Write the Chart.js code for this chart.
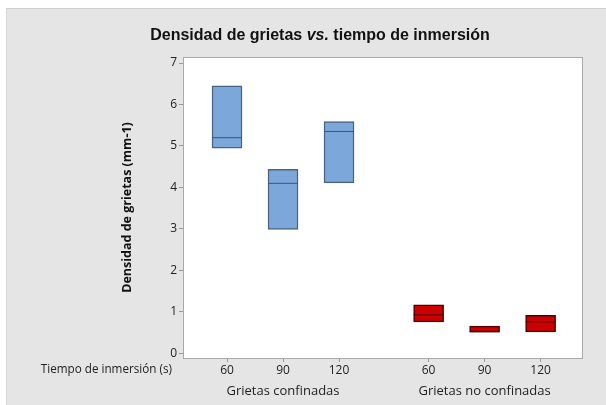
<!DOCTYPE html>
<html>
<head>
<meta charset="utf-8">
<script src="https://cdn.jsdelivr.net/npm/chart.js@4"></script>
<style>
  html, body { margin: 0; padding: 0; background: #fff; overflow: hidden; }
  #panel {
    position: absolute; left: 6px; top: 8px; width: 600px; height: 397px; box-sizing: border-box;
    background: #e5e5e5; border-top: 1px solid #cfcfcf; border-left: 1px solid #d6d6d6;
  }
  #wrap { position: absolute; left: 0; top: 0; width: 606px; height: 405px; }
</style>
</head>
<body>
<div id="panel"></div>
<div id="wrap"><canvas id="chart" width="606" height="405"></canvas></div>
<script>
// posiciones en el eje x (dos grupos separados)
const xPos = [1, 2, 3, 4.6, 5.6, 6.6];
const tiempos = ["60", "90", "120", "60", "90", "120"];
const grupos = ["Grietas confinadas", "Grietas no confinadas"];
const grupoPos = [2, 5.6];

// cajas: cuartil inferior, mediana, cuartil superior
const confLow = [4.95, 2.99, 4.11];
const confMed = [5.20, 4.10, 5.35];
const confHigh = [6.45, 4.44, 5.59];

const noConfLow = [0.76, 0.52, 0.52];
const noConfMed = [0.93, 0.52, 0.76];
const noConfHigh = [1.17, 0.66, 0.92];

const yTicks = [0, 1, 2, 3, 4, 5, 6, 7];

const boxes = (xs, lo, hi) => lo.map((v, i) => ({ x: xs[i], y: [v, hi[i]] }));
const meds = (xs, md) => md.map((v, i) => ({ x: xs[i], y: v }));

const fondo = {
    id: 'fondo',
    beforeDraw(chart) {
        const { ctx, chartArea: a } = chart;
        ctx.save();
        ctx.fillStyle = '#ffffff';
        ctx.fillRect(a.left, a.top, a.right - a.left, a.bottom - a.top);
        ctx.restore();
    },
    afterDraw(chart) {
        const { ctx, chartArea: a } = chart;
        ctx.save();
        ctx.strokeStyle = '#a9a9a9';
        ctx.lineWidth = 1;
        ctx.strokeRect(a.left + 0.5, a.top + 0.5, a.right - a.left - 1, a.bottom - a.top);

        // titulo con "vs." en cursiva
        const parts = [
            ['bold 16px "Liberation Sans", Arial', 'Densidad de grietas '],
            ['italic bold 16px "Liberation Sans", Arial', 'vs.'],
            ['bold 16px "Liberation Sans", Arial', ' tiempo de inmersión']
        ];
        let total = 0;
        parts.forEach(p => { ctx.font = p[0]; total += ctx.measureText(p[1]).width; });
        let x = 320 - total / 2;
        ctx.fillStyle = '#111';
        ctx.textBaseline = 'alphabetic';
        ctx.textAlign = 'left';
        parts.forEach(p => {
            ctx.font = p[0];
            ctx.fillText(p[1], x, 40);
            x += ctx.measureText(p[1]).width;
        });

        // etiqueta de fila del eje x
        ctx.font = '11.7px "Open Sans", sans-serif';
        ctx.fillStyle = '#222';
        ctx.textAlign = 'right';
        ctx.textBaseline = 'middle';
        ctx.fillText('Tiempo de inmersión (s)', 172, 370);
        ctx.restore();
    }
};

new Chart(document.getElementById('chart'), {
    type: 'bar',
    data: {
        datasets: [
            {
                type: 'line', data: meds(xPos.slice(0, 3), confMed), showLine: false,
                pointStyle: 'line', pointRadius: 15, borderColor: '#3f5670', borderWidth: 1, order: 0
            },
            {
                type: 'line', data: meds(xPos.slice(3), noConfMed), showLine: false,
                pointStyle: 'line', pointRadius: 15, borderColor: '#4a0000', borderWidth: 1, order: 0
            },
            {
                data: boxes(xPos.slice(0, 3), confLow, confHigh),
                backgroundColor: '#7ba7db', borderColor: '#4b6380', borderWidth: 1.5,
                borderSkipped: false, barThickness: 30, grouped: false, order: 1
            },
            {
                data: boxes(xPos.slice(3), noConfLow, noConfHigh),
                backgroundColor: '#cc0000', borderColor: '#4a0000', borderWidth: 1.5,
                borderSkipped: false, barThickness: 30, grouped: false, order: 1
            }
        ]
    },
    options: {
        responsive: false,
        animation: false,
        layout: { padding: { left: 110, top: 57, right: 23, bottom: 8 } },
        plugins: { legend: { display: false }, tooltip: { enabled: false } },
        scales: {
            x: {
                type: 'linear', position: 'bottom', min: 0.214, max: 7.357, offset: false,
                afterFit: s => { s.height = 22; },
                afterBuildTicks: s => { s.ticks = xPos.map(v => ({ value: v })); },
                ticks: {
                    autoSkip: false, maxRotation: 0, padding: 1, color: '#222',
                    font: { family: '"Open Sans", sans-serif', size: 12 },
                    callback: (v, i) => tiempos[i]
                },
                grid: { drawOnChartArea: false, offset: false, tickLength: 4, color: '#999' },
                border: { display: false }
            },
            x2: {
                type: 'linear', position: 'bottom', min: 0.214, max: 7.357, offset: false,
                afterFit: s => { s.height = 17; },
                afterBuildTicks: s => { s.ticks = grupoPos.map(v => ({ value: v })); },
                ticks: {
                    autoSkip: false, maxRotation: 0, padding: -5, color: '#222',
                    font: { family: '"Open Sans", sans-serif', size: 13 },
                    callback: (v, i) => grupos[i]
                },
                grid: { display: false, offset: false },
                border: { display: false }
            },
            y: {
                min: -0.11, max: 7.145,
                afterFit: s => { s.width = 73; },
                afterBuildTicks: s => { s.ticks = yTicks.map(v => ({ value: v })); },
                ticks: {
                    padding: 2, color: '#222',
                    font: { family: '"Open Sans", sans-serif', size: 12 }
                },
                grid: { drawOnChartArea: false, tickLength: 4, color: '#999' },
                border: { display: false },
                title: {
                    display: true, text: 'Densidad de grietas (mm-1)', color: '#111',
                    padding: { top: 10, bottom: 0 },
                    font: { family: '"Open Sans", sans-serif', size: 12.5, weight: 'bold' }
                }
            }
        }
    },
    plugins: [fondo]
});
</script>
</body>
</html>
